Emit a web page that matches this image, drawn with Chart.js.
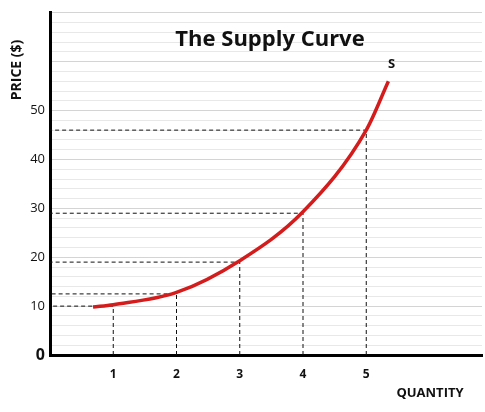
<!DOCTYPE html>
<html>
<head>
<script src="https://cdn.jsdelivr.net/npm/chart.js@4"></script>
<style>body{margin:0;background:#fff}#wrap{width:485px;height:412px}</style>
</head>
<body>
<div id="wrap"><canvas id="c"></canvas></div>
<script>
var curveQ = [0.68, 1, 2, 3, 4, 5, 5.35];
var curveP = [9.8, 10.3, 12.8, 19.3, 29.3, 46, 56];
var guideQ = [1, 2, 3, 4, 5];
var guideP = [10, 12.5, 19, 29, 46];
var yLabels = [0, 10, 20, 30, 40, 50];
var xLabels = [1, 2, 3, 4, 5];

var datasets = [{
  data: curveQ.map(function (q, i) { return {x: q, y: curveP[i]}; }),
  borderColor: '#d41c1c', borderWidth: 3.5, pointRadius: 0,
  cubicInterpolationMode: 'monotone', order: 0
}];
guideQ.forEach(function (q, i) {
  datasets.push({
    data: [{x: q, y: 0}, {x: q, y: guideP[i]}, {x: 0, y: guideP[i]}],
    borderColor: '#111', borderWidth: 1, borderDash: [4, 3], pointRadius: 0, order: 1
  });
});

var texts = {
  id: 'texts',
  afterDraw: function (chart) {
    var ctx = chart.ctx;
    var sx = chart.scales.x, sy = chart.scales.y;
    ctx.save();
    ctx.fillStyle = '#111';
    ctx.textAlign = 'center'; ctx.textBaseline = 'middle';
    ctx.font = 'bold 22px "Open Sans"';
    ctx.fillText('The Supply Curve', 270, 40);
    ctx.font = 'bold 13px "Open Sans"';
    ctx.fillText('S', sx.getPixelForValue(5.4), sy.getPixelForValue(59.5));
    ctx.fillText('QUANTITY', 430, 393);
    ctx.translate(17, 70); ctx.rotate(-Math.PI / 2);
    ctx.font = 'bold 14px "Open Sans"';
    ctx.fillText('PRICE ($)', 0, 0);
    ctx.restore();
  }
};

new Chart(document.getElementById('c'), {
  type: 'line',
  data: {datasets: datasets},
  options: {
    responsive: true, maintainAspectRatio: false, animation: false,
    layout: {padding: {top: 12, right: 3, left: 0, bottom: 0}},
    plugins: {legend: {display: false}, tooltip: {enabled: false}},
    scales: {
      x: {
        type: 'linear', min: 0, max: 6.83,
        afterFit: function (s) { s.height = 57; },
        grid: {display: false, drawTicks: false},
        border: {color: '#000', width: 3},
        afterBuildTicks: function (s) { s.ticks = xLabels.map(function (v) { return {value: v}; }); },
        ticks: {color: '#111', font: {family: 'Open Sans', size: 12, weight: 'bold'}, padding: 12}
      },
      y: {
        min: 0, max: 70,
        afterFit: function (s) { s.width = 50; },
        border: {color: '#000', width: 3},
        grid: {color: function (c) { return c.tick.value % 10 === 0 ? '#d4d4d4' : '#e8e8e8'; }, drawTicks: false},
        ticks: {
          stepSize: 2, autoSkip: false, padding: 5, color: '#111',
          font: function (c) { return c.tick && c.tick.value === 0 ? {family: 'Open Sans', size: 16, weight: 'bold'} : {family: 'Open Sans', size: 13}; },
          callback: function (v) { return yLabels.indexOf(v) >= 0 ? String(v) : ''; }
        }
      }
    }
  },
  plugins: [texts]
});
</script>
</body>
</html>
